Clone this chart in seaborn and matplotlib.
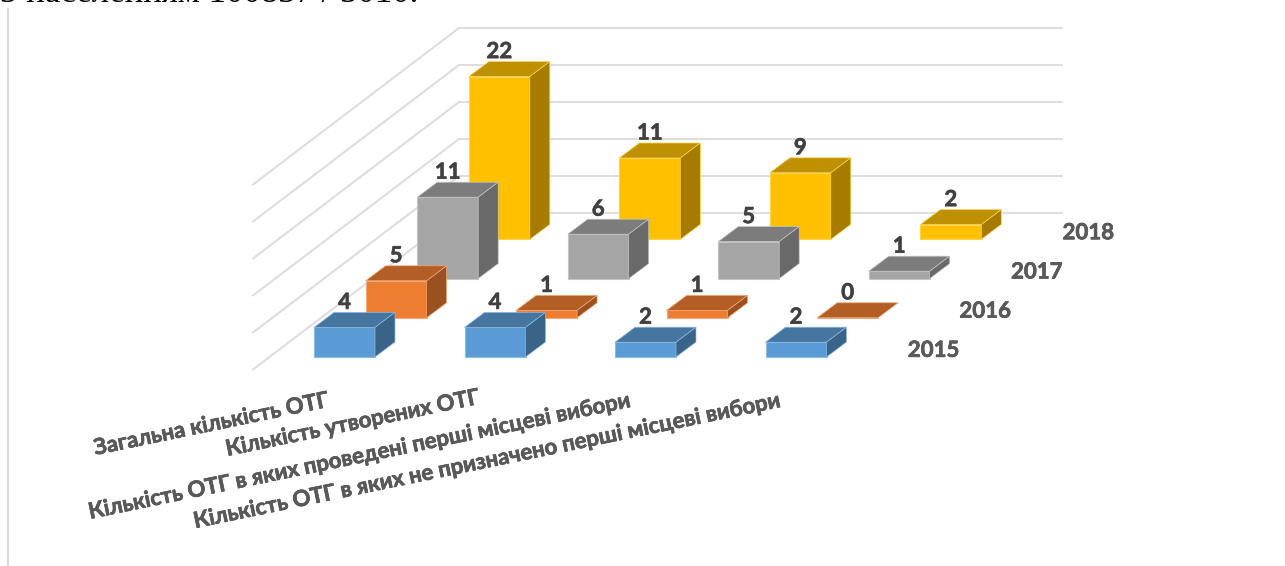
import numpy as np
import pandas as pd
import seaborn as sns
import matplotlib.pyplot as plt
import matplotlib.patheffects as pe

categories = ['Загальна кількість ОТГ', 'Кількість утворених ОТГ',
              'Кількість ОТГ в яких проведені перші місцеві вибори',
              'Кількість ОТГ в яких не призначено перші місцеві вибори']
years = ['2015', '2016', '2017', '2018']
v2015 = [4, 4, 2, 2]
v2016 = [5, 1, 1, 0]
v2017 = [11, 6, 5, 1]
v2018 = [22, 11, 9, 2]
wall_ticks = [0, 5, 10, 15, 20, 25]

series = [v2015, v2016, v2017, v2018]
front = ['#5B9BD5', '#ED7D31', '#A5A5A5', '#FFC000']
top = ['#4675A0', '#B25E25', '#7C7C7C', '#BF9000']
side = ['#3A6388', '#9A501F', '#696969', '#A67C00']
edge = ['#8DB9E2', '#F4A878', '#C4C4C4', '#FFD34D']

# one x unit is a category step (150.5 px), one y unit is one value (7.4 px)
px, py = 150.5, 7.4
bar_w = 61 / px
depth_x, depth_y = 20 / px, 15 / py
step_x, step_y = 51.6 / px, 39.2 / py

sns.set_theme(style='white')
plt.rcParams['font.family'] = ['Lato', 'Open Sans', 'DejaVu Sans']

fig = plt.figure(figsize=(12.85, 5.66), dpi=100)
ax = fig.add_axes([0, 0, 1, 1])
heavy = [pe.withStroke(linewidth=0.5, foreground='#505050')]


def to_x(p):
    return (p - 344.5) / px


def to_y(p):
    return (357 - p) / py


# back wall and side wall lines
for t in wall_ticks:
    y = to_y(213) + t
    ax.plot([to_x(459), to_x(1062)], [y, y], color='#DEDEDE', lw=1.5, zorder=1)
    ax.plot([to_x(253), to_x(459)], [y - 156.5 / py, y], color='#DEDEDE', lw=1.5, zorder=1)

# frame line of the page
ax.plot([to_x(8), to_x(8)], [to_y(9), to_y(566)], color='#D9D9D9', lw=1.6, zorder=1)

# line of body text cut off by the top edge
ax.text(to_x(0), to_y(1.8), 'З населенням 100837 / 3010.', ha='left', va='baseline', fontsize=25,
        family='Liberation Serif', color='black', zorder=20)

# back row first so the front rows cover it
for s in [3, 2, 1, 0]:
    xs = np.arange(4) + s * step_x
    base = s * step_y
    df = pd.DataFrame({'pos': xs, 'value': series[s]})
    sns.barplot(data=df, x='pos', y='value', native_scale=True, orient='x', width=bar_w,
                bottom=base, color=front[s], saturation=1, errorbar=None,
                edgecolor=edge[s], linewidth=0.8, ax=ax, zorder=3 + (3 - s) * 2)
    for x, v in zip(xs, series[s]):
        l, r = x - bar_w / 2, x + bar_w / 2
        h = base + v
        ax.fill([l, r, r + depth_x, l + depth_x], [h, h, h + depth_y, h + depth_y],
                facecolor=top[s], edgecolor=edge[s], lw=0.5, zorder=3 + (3 - s) * 2)
        if v > 0:
            ax.fill([r, r + depth_x, r + depth_x, r], [base, base + depth_y, h + depth_y, h],
                    facecolor=side[s], edgecolor=edge[s], lw=0.5, zorder=3 + (3 - s) * 2)
        ax.text(x, h + depth_y + 10 / py, str(v), ha='center', va='center', fontsize=16,
                fontweight='bold', color='#404040', zorder=20, path_effects=heavy)
    ax.text(xs[3] + 137.5 / px, base + 0.9, years[s], ha='center', va='center', fontsize=16,
            fontweight='bold', color='#595959', zorder=20, path_effects=heavy)

# category labels, anchored at their right end
label_x = [329, 480, 632, 782]
label_y = [400, 397, 400, 400]
for name, lx, ly in zip(categories, label_x, label_y):
    ax.text(to_x(lx), to_y(ly), name, rotation=11.7, rotation_mode='anchor', ha='right', va='center',
            fontsize=16, fontweight='bold', color='#595959', zorder=20, path_effects=heavy)

ax.set_xlim(to_x(0), to_x(1285))
ax.set_ylim(to_y(566), to_y(0))
ax.axis('off')

fig.savefig('out.png', dpi=100)
